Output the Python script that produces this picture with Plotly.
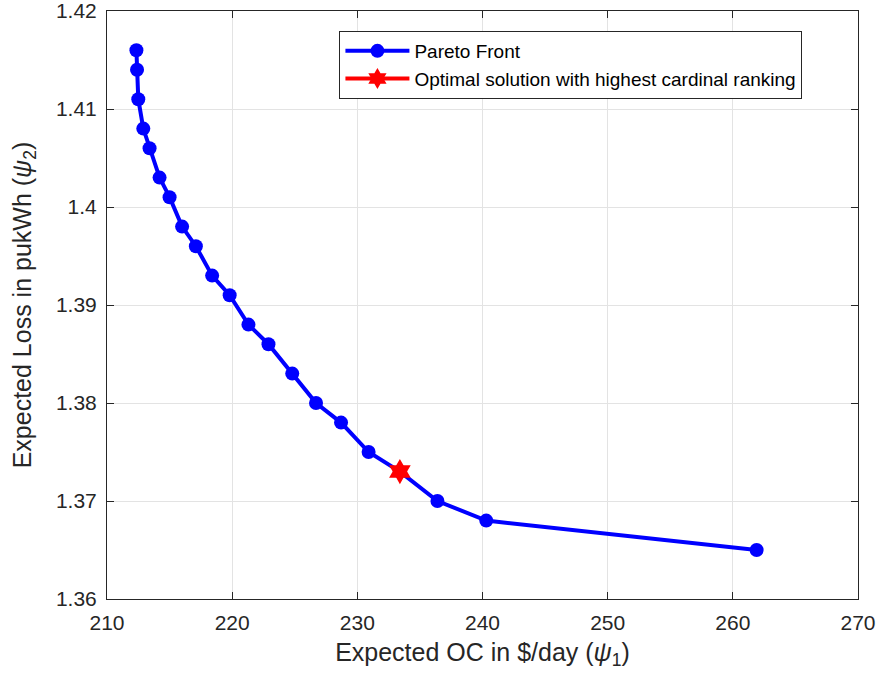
import plotly.graph_objects as go

# Pareto front data (Expected OC, Expected Loss)
oc = [212.35, 212.4, 212.5, 212.9, 213.4, 214.2, 215.0, 216.0, 217.1, 218.4,
      219.8, 221.3, 222.9, 224.8, 226.7, 228.7, 230.9, 233.4, 236.4, 240.3, 261.9]
loss = [1.416, 1.414, 1.411, 1.408, 1.406, 1.403, 1.401, 1.398, 1.396, 1.393,
        1.391, 1.388, 1.386, 1.383, 1.380, 1.378, 1.375, 1.373, 1.370, 1.368, 1.365]

opt_oc = [233.4]
opt_loss = [1.373]

x_ticks = [210, 220, 230, 240, 250, 260, 270]
y_ticks = [1.36, 1.37, 1.38, 1.39, 1.40, 1.41, 1.42]
y_tick_text = ["1.36", "1.37", "1.38", "1.39", "1.4", "1.41", "1.42"]

FONT = "Liberation Sans, Arial, Helvetica, sans-serif"

fig = go.Figure()
fig.add_trace(go.Scatter(
    x=oc, y=loss, mode="lines+markers", name="Pareto Front",
    line=dict(color="#0000ff", width=4),
    marker=dict(color="#0000ff", size=14, symbol="circle"),
))
fig.add_trace(go.Scatter(
    x=opt_oc, y=opt_loss, mode="lines+markers",
    name="Optimal solution with highest cardinal ranking",
    line=dict(color="#ff0000", width=4),
    marker=dict(color="#ff0000", size=19, symbol="hexagram"),
))

axis_common = dict(
    showgrid=True, gridcolor="#e3e3e3", gridwidth=1,
    showline=True, linecolor="#262626", linewidth=1, mirror="ticks",
    ticks="inside", ticklen=7, tickcolor="#262626",
    zeroline=False, automargin=False, ticklabeloverflow="allow",
    tickfont=dict(family=FONT, size=21, color="#262626"),
)

fig.update_xaxes(
    range=[210, 270], tickvals=x_ticks, ticktext=[str(v) for v in x_ticks],
    ticklabelstandoff=5,
    title=dict(text="Expected OC in $/day (<i>ψ</i><sub>1</sub>)",
               font=dict(family=FONT, size=25, color="#262626"),
               standoff=10),
    **axis_common,
)
fig.update_yaxes(
    range=[1.36, 1.42], tickvals=y_ticks, ticktext=y_tick_text,
    ticklabelstandoff=5,
    title=dict(text="Expected Loss in pukWh (<i>ψ</i><sub>2</sub>)",
               font=dict(family=FONT, size=25, color="#262626"),
               standoff=17),
    **axis_common,
)

fig.update_layout(
    width=880, height=681,
    margin=dict(l=107, r=22, t=11, b=82),
    plot_bgcolor="white", paper_bgcolor="white",
    legend=dict(
        x=0.926, y=0.966, xanchor="right", yanchor="top",
        bgcolor="white", bordercolor="#262626", borderwidth=1,
        font=dict(family=FONT, size=19, color="#000000"),
        itemwidth=64, tracegroupgap=0,
    ),
    showlegend=True,
)

fig.write_html("out.html")
